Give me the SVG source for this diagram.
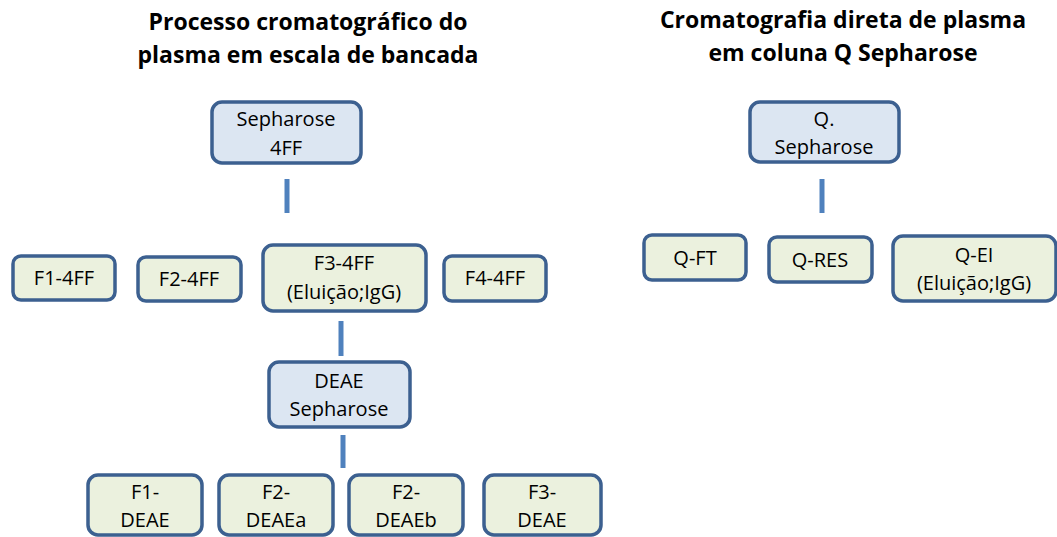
<svg xmlns="http://www.w3.org/2000/svg" width="1057" height="537" viewBox="0 0 1057 537">
<style>
.t{font-family:"Open Sans","Noto Sans",sans-serif;font-size:20px;fill:#000;text-anchor:middle}
.h{font-family:"Open Sans","Noto Sans",sans-serif;font-size:23px;font-weight:bold;fill:#000;text-anchor:middle}
.b{fill:#dce6f2;stroke:#3c6090;stroke-width:3.5}
.g{fill:#ebf1de;stroke:#3c6090;stroke-width:3.5}
.c{stroke:#4f81bd;stroke-width:5;fill:none}
</style>
<rect width="1057" height="537" fill="#fff"/>
<g id="titles">
<text class="h" x="308" y="30">Processo cromatográfico do</text>
<text class="h" x="308" y="63">plasma em escala de bancada</text>
<text class="h" x="843" y="28">Cromatografia direta de plasma</text>
<text class="h" x="843" y="61">em coluna Q Sepharose</text>
</g>
<g id="connectors">
<line class="c" x1="287" y1="179" x2="287" y2="213"/>
<line class="c" x1="341" y1="321" x2="341" y2="356"/>
<line class="c" x1="343" y1="435" x2="343" y2="468"/>
<line class="c" x1="822" y1="179" x2="822" y2="213"/>
</g>
<g id="n-seph4ff"><rect class="b" x="212" y="102" width="149" height="61" rx="10"/><text class="t" x="286" y="126">Sepharose</text><text class="t" x="286" y="155">4FF</text></g>
<g id="n-f1-4ff"><rect class="g" x="13" y="256" width="102" height="44" rx="8"/><text class="t" x="64" y="285">F1-4FF</text></g>
<g id="n-f2-4ff"><rect class="g" x="138" y="257" width="103" height="44" rx="8"/><text class="t" x="189" y="286">F2-4FF</text></g>
<g id="n-f3-4ff"><rect class="g" x="263" y="245" width="163" height="66" rx="10"/><text class="t" x="344" y="270">F3-4FF</text><text class="t" x="344" y="299">(Eluição;IgG)</text></g>
<g id="n-f4-4ff"><rect class="g" x="444" y="256" width="102" height="45" rx="8"/><text class="t" x="495" y="285">F4-4FF</text></g>
<g id="n-deae"><rect class="b" x="269" y="362" width="141" height="65" rx="10"/><text class="t" x="339" y="388">DEAE</text><text class="t" x="339" y="416">Sepharose</text></g>
<g id="n-f1-deae"><rect class="g" x="88" y="475" width="114" height="60" rx="10"/><text class="t" x="145" y="499">F1-</text><text class="t" x="145" y="527">DEAE</text></g>
<g id="n-f2-deaea"><rect class="g" x="219" y="475" width="114" height="60" rx="10"/><text class="t" x="276" y="499">F2-</text><text class="t" x="276" y="527">DEAEa</text></g>
<g id="n-f2-deaeb"><rect class="g" x="349" y="475" width="114" height="60" rx="10"/><text class="t" x="406" y="499">F2-</text><text class="t" x="406" y="527">DEAEb</text></g>
<g id="n-f3-deae"><rect class="g" x="484" y="475" width="117" height="60" rx="10"/><text class="t" x="542" y="499">F3-</text><text class="t" x="542" y="527">DEAE</text></g>
<g id="n-qseph"><rect class="b" x="750" y="102" width="149" height="60" rx="10"/><text class="t" x="824" y="126">Q.</text><text class="t" x="824" y="154">Sepharose</text></g>
<g id="n-qft"><rect class="g" x="644" y="235" width="102" height="45" rx="8"/><text class="t" x="695" y="265">Q-FT</text></g>
<g id="n-qres"><rect class="g" x="769" y="237" width="103" height="45" rx="8"/><text class="t" x="820" y="267">Q-RES</text></g>
<g id="n-qei"><rect class="g" x="893" y="236" width="163" height="65" rx="10"/><text class="t" x="974" y="262">Q-EI</text><text class="t" x="974" y="290">(Eluição;IgG)</text></g>
</svg>
